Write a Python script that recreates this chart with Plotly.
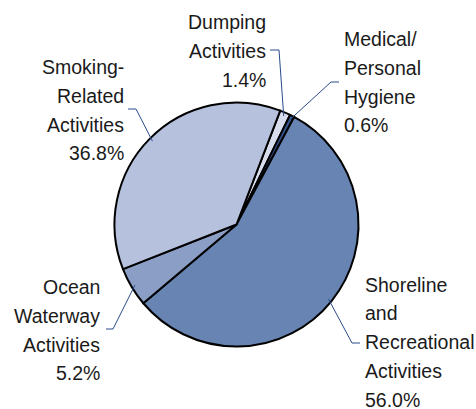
import math
import plotly.graph_objects as go

# Marine debris sources (share of items, %)
categories = ["Dumping Activities", "Medical/Personal Hygiene",
              "Shoreline and Recreational Activities",
              "Ocean Waterway Activities", "Smoking-Related Activities"]
shares = [1.4, 0.6, 56.0, 5.2, 36.8]
label_lines = [
    ["Dumping", "Activities", "1.4%"],
    ["Medical/", "Personal", "Hygiene", "0.6%"],
    ["Shoreline", "and", "Recreational", "Activities", "56.0%"],
    ["Ocean", "Waterway", "Activities", "5.2%"],
    ["Smoking-", "Related", "Activities", "36.8%"],
]
colors = ["#D8DDED", "#34558C", "#6784B2", "#8B9EC5", "#B5C1DD"]

W, H = 476, 409
CX, CY, R = 236.5, 224.5, 122.0
ROTATION = 21.0

# label placement: (anchor x, first line y, alignment, leader elbow, leader end at label)
label_layout = [
    (268, 22, "right", (279, 50), (270, 50)),
    (342, 39, "left", (331, 82), (339, 82)),
    (363, 284.5, "left", (352, 343), (360, 343)),
    (102, 287, "right", (113, 329), (106, 329)),
    (126, 67, "right", (136, 109), (128, 109)),
]
LINE_STEP = 28.8


def px(x):
    return x / W


def py(y):
    return 1 - y / H


fig = go.Figure(go.Pie(
    labels=categories, values=shares, sort=False, direction="clockwise",
    rotation=ROTATION, textinfo="none", hoverinfo="label+percent",
    marker=dict(colors=colors, line=dict(color="#000000", width=2)),
    domain=dict(x=[px(CX - R), px(CX + R)], y=[py(CY + R), py(CY - R)]),
    showlegend=False,
))

annotations = []
shapes = []
total = sum(shares)
start = ROTATION
for val, lines, (ax, y0, align, elbow, lend) in zip(shares, label_lines, label_layout):
    mid = start + val / total * 360 / 2
    start += val / total * 360
    rr = R * 0.97
    rim_x = CX + rr * math.sin(math.radians(mid))
    rim_y = CY - rr * math.cos(math.radians(mid))
    shapes.append(dict(
        type="path", xref="paper", yref="paper",
        path=f"M {px(rim_x)},{py(rim_y)} L {px(elbow[0])},{py(elbow[1])} "
             f"L {px(lend[0])},{py(lend[1])}",
        line=dict(color="#2A4A8A", width=1),
    ))
    for i, t in enumerate(lines):
        annotations.append(dict(
            text=t, xref="paper", yref="paper", x=px(ax), y=py(y0 + i * LINE_STEP),
            xanchor=align, yanchor="middle", showarrow=False,
            font=dict(family="Liberation Sans, Arial, sans-serif", size=19.5, color="#1A1A1A"),
        ))

fig.update_layout(
    width=W, height=H, margin=dict(l=0, r=0, t=0, b=0),
    paper_bgcolor="white", plot_bgcolor="white",
    annotations=annotations, shapes=shapes,
)
fig.write_html("out.html")
